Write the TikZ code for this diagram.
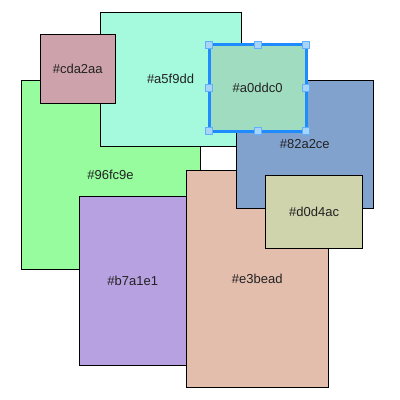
\documentclass[tikz,border=0pt]{standalone}
\usepackage{fontspec}
\setmainfont{Liberation Sans}
\definecolor{c96fc9e}{HTML}{96FC9E}
\definecolor{ca5f9dd}{HTML}{A5F9DD}
\definecolor{ccda2aa}{HTML}{CDA2AA}
\definecolor{ca0ddc0}{HTML}{A0DDC0}
\definecolor{c82a2ce}{HTML}{82A2CE}
\definecolor{cd0d4ac}{HTML}{D0D4AC}
\definecolor{cb7a1e1}{HTML}{B7A1E1}
\definecolor{ce3bead}{HTML}{E3BEAD}
\definecolor{selblue}{HTML}{1E8CFF}
\definecolor{handlefill}{HTML}{A8D4F7}
\definecolor{txt}{HTML}{222222}
\tikzset{
  box/.style={draw=black, line width=1pt, rectangle, inner sep=0pt, outer sep=0pt,
    anchor=north west, text=txt, font=\fontsize{13}{15}\selectfont},
  selbox/.style={draw=selblue, line width=3pt, rectangle, inner sep=0pt, outer sep=0pt,
    anchor=north west, text=txt, font=\fontsize{13}{15}\selectfont},
  handle/.style={draw=selblue!70, fill=handlefill, line width=1pt, rectangle,
    minimum size=7pt, inner sep=0pt}
}
\begin{document}
\begin{tikzpicture}[x=1pt,y=-1pt]
\useasboundingbox (0,0) rectangle (400,400);
\node[box, fill=c96fc9e, minimum width=179pt, minimum height=189pt] (g) at (21,80) {\#96fc9e};
\node[box, fill=ca5f9dd, minimum width=141pt, minimum height=133.5pt] (a) at (100,12.5) {\#a5f9dd};
\node[box, fill=ccda2aa, minimum width=75.5pt, minimum height=69pt] (c) at (40,34) {\#cda2aa};
\node[box, fill=cb7a1e1, minimum width=107pt, minimum height=169pt] (b) at (79.3,196.3) {\#b7a1e1};
\node[box, fill=ce3bead, minimum width=142pt, minimum height=216.7pt] (e) at (186.3,170.3) {\#e3bead};
\node[box, fill=c82a2ce, minimum width=137pt, minimum height=128pt] (s) at (236.3,80.3) {\#82a2ce};
\node[box, fill=cd0d4ac, minimum width=97pt, minimum height=72.7pt] (d) at (265.6,175.3) {\#d0d4ac};
\node[selbox, fill=ca0ddc0, minimum width=96.7pt, minimum height=86.3pt] (m) at (209.3,44.7) {\#a0ddc0};
\foreach \p in {north west,north,north east,east,south east,south,south west,west}
  \node[handle] at (m.\p) {};
\end{tikzpicture}
\end{document}
